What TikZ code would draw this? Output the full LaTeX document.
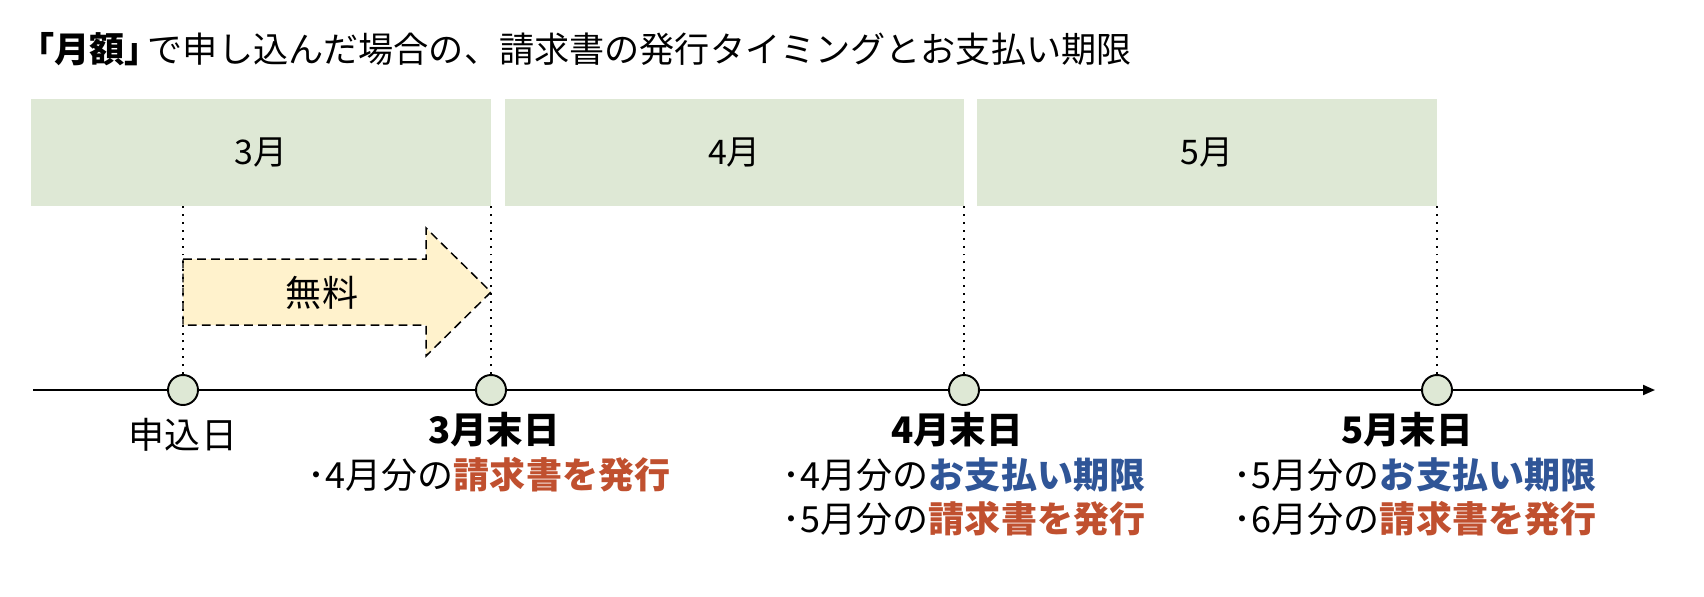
\documentclass[tikz,border=0pt]{standalone}
\usepackage{fontspec}
\setmainfont{Noto Sans CJK JP}
\usepackage{tikz}
\usetikzlibrary{arrows.meta}
\definecolor{monthgreen}{HTML}{DEE8D5}
\definecolor{freeyellow}{HTML}{FFF2CC}
\definecolor{billred}{HTML}{C0502F}
\definecolor{payblue}{HTML}{2F5597}

\begin{document}
\begin{tikzpicture}[x=0.02cm,y=-0.02cm,
    month/.style={fill=monthgreen,minimum height=2.14cm,inner sep=0pt,
      font=\fontsize{19.3pt}{22pt}\selectfont},
    day/.style={circle,draw,line width=1.1pt,fill=monthgreen,minimum size=0.6cm,inner sep=0pt},
    lab/.style={inner sep=0pt,font=\fontsize{20.5pt}{24pt}\selectfont},
    guide/.style={line width=1.1pt,dash pattern=on 1.1pt off 3.4pt}]
        \useasboundingbox (0,0) rectangle (1704,596);

        \node[lab,anchor=west,font=\fontsize{20pt}{23pt}\selectfont] (title) at (35,49)
              {\kern-0.45em{\bfseries 「月額」}\kern-0.35em で申し込んだ場合の、請求書の発行タイミングとお支払い期限};

        \node[month,minimum width=9.2cm]  (m3) at (261,152.5) {3月};
        \node[month,minimum width=9.18cm] (m4) at (734.5,152.5) {4月};
        \node[month,minimum width=9.2cm]  (m5) at (1207,152.5) {5月};

        % free period
        \draw[dashed,line width=0.85pt,dash pattern=on 5pt off 3pt,fill=freeyellow]
              (183,259) -- (426,259) -- (426,228) -- (491,292) -- (426,356)
              -- (426,325) -- (183,325) -- cycle;
        \node[lab] (free) at (322,293) {無料};

        % time axis
        \coordinate (t0) at (33,390);
        \coordinate (t1) at (1655,390);
        \draw[line width=1.1pt,-{Triangle[length=0.24cm,width=0.2cm]}] (t0) -- (t1);

        \node[day] (d0) at (183,390) {};
        \node[day] (d1) at (491,390) {};
        \node[day] (d2) at (964,390) {};
        \node[day] (d3) at (1437,390) {};

        \draw[guide] (d0.north) -- (d0 |- m3.south);
        \draw[guide] (d1.north) -- (d1 |- m3.south);
        \draw[guide] (d2.north) -- (d2 |- m4.south);
        \draw[guide] (d3.north) -- (d3 |- m5.south);

        \node[lab] (apply) at (183,435) {申込日};

        \node[lab,font=\fontsize{20.8pt}{24pt}\selectfont\bfseries] (end3) at (494,430) {3月末日};
        \node[lab] (bill4) at (489,475) {･4月分の\textcolor{billred}{\bfseries 請求書を発行}};

        \node[lab,font=\fontsize{20.8pt}{24pt}\selectfont\bfseries] (end4) at (957,430) {4月末日};
        \node[lab] (pay4)  at (964,475) {･4月分の\textcolor{payblue}{\bfseries お支払い期限}};
        \node[lab] (bill5) at (964,519) {･5月分の\textcolor{billred}{\bfseries 請求書を発行}};

        \node[lab,font=\fontsize{20.8pt}{24pt}\selectfont\bfseries] (end5) at (1407,430) {5月末日};
        \node[lab] (pay5)  at (1415,475) {･5月分の\textcolor{payblue}{\bfseries お支払い期限}};
        \node[lab] (bill6) at (1415,519) {･6月分の\textcolor{billred}{\bfseries 請求書を発行}};
\end{tikzpicture}
\end{document}
